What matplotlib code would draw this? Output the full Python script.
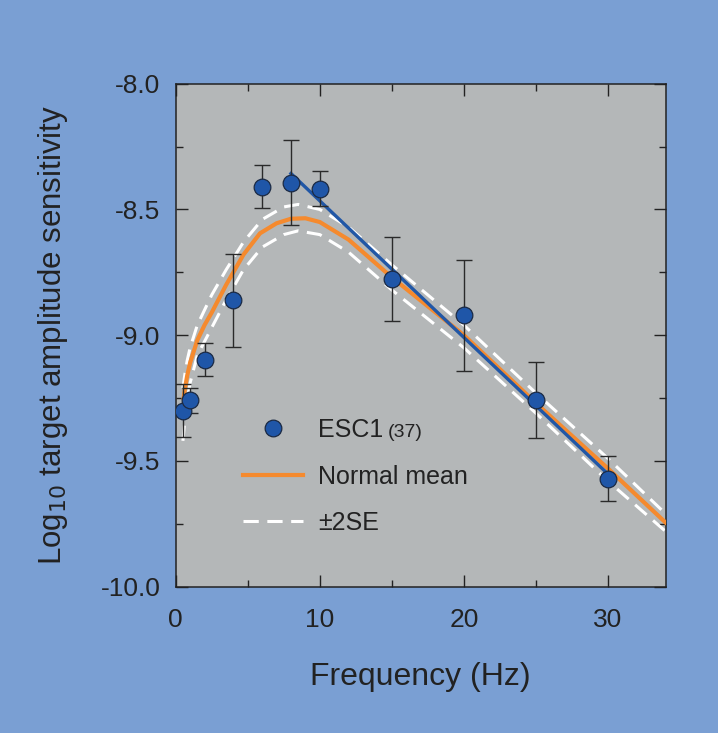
import matplotlib
matplotlib.use("Agg")
import matplotlib.pyplot as plt
from matplotlib.lines import Line2D
from matplotlib.ticker import MultipleLocator, FormatStrFormatter

plt.rcParams['font.family'] = ['Liberation Sans', 'DejaVu Sans']

# ---- data ----
freq = [0.5, 1, 2, 4, 6, 8, 10, 15, 20, 25, 30]
sens = [-9.30, -9.258, -9.097, -8.862, -8.409, -8.393, -8.417, -8.778, -8.921, -9.258, -9.571]
sens_err = [0.105, 0.05, 0.066, 0.185, 0.085, 0.17, 0.07, 0.167, 0.22, 0.15, 0.09]

fit_x = [8, 30]
fit_y = [-8.357, -9.552]

mean_x = [0.55, 0.65, 0.8, 1.0, 1.5, 2.0, 2.5, 3.5, 4.7, 5.85, 7.0, 8.0, 9.0, 10.0, 12.0, 15.0, 20.0, 25.0, 30.0, 34.0]
mean_y = [-9.25, -9.21, -9.16, -9.11, -9.02, -8.96, -8.91, -8.80, -8.68, -8.595, -8.555, -8.537, -8.535, -8.55, -8.62, -8.77, -9.00, -9.27, -9.53, -9.745]

se_x = [0.5, 0.65, 0.8, 1.0, 1.5, 2.5, 3.5, 4.7, 6.0, 7.5, 8.5, 10.0, 12.0, 15.0, 20.0, 25.0, 30.0, 34.0]
se_upper = [-9.21, -9.15, -9.10, -9.05, -8.96, -8.84, -8.74, -8.63, -8.54, -8.49, -8.48, -8.50, -8.57, -8.72, -8.96, -9.23, -9.49, -9.71]
se_lower = [-9.42, -9.33, -9.26, -9.19, -9.08, -8.97, -8.86, -8.74, -8.65, -8.60, -8.585, -8.60, -8.67, -8.82, -9.05, -9.31, -9.58, -9.78]

x_ticks = [0, 10, 20, 30]
y_ticks = [-10.0, -9.5, -9.0, -8.5, -8.0]

# ---- styles ----
bg_fig = '#7A9FD3'
bg_ax = '#B4B7B8'
dark = '#222222'
blue_mk = '#1F56A8'
blue_ln = '#2157A6'
orange = '#F58A2E'

fig = plt.figure(figsize=(7.18, 7.33), dpi=100, facecolor=bg_fig)
ax = fig.add_axes([0.2447, 0.1996, 0.6823, 0.6862])
ax.set_facecolor(bg_ax)

ax.plot(se_x, se_upper, color='white', lw=2.2, dashes=(5.0, 2.8), zorder=2)
ax.plot(se_x, se_lower, color='white', lw=2.2, dashes=(5.0, 2.8), zorder=2)
ax.plot(mean_x, mean_y, color=orange, lw=3.0, zorder=3)
ax.plot(fit_x, fit_y, color=blue_ln, lw=2.4, zorder=4)
ax.errorbar(freq, sens, yerr=sens_err, fmt='none', ecolor='#2a2a2a', elinewidth=1.0,
            capsize=5.8, capthick=1.0, zorder=5)
ax.plot(freq, sens, 'o', ms=12, mfc=blue_mk, mec='#1b2a44', mew=0.9, zorder=6)

ax.set_xlim(0, 34)
ax.set_ylim(-10, -8)
ax.set_xticks(x_ticks)
ax.set_yticks(y_ticks)
ax.xaxis.set_minor_locator(MultipleLocator(5))
ax.yaxis.set_minor_locator(MultipleLocator(0.25))
ax.yaxis.set_major_formatter(FormatStrFormatter('%.1f'))
ax.tick_params(which='both', direction='in', top=True, right=True, color=dark, width=1.0,
               labelsize=19, labelcolor=dark)
ax.tick_params(which='major', length=8.4)
ax.tick_params(which='minor', length=5)
ax.tick_params(axis='y', pad=11)
ax.tick_params(axis='x', pad=15)
for s in ax.spines.values():
    s.set_color(dark)
    s.set_linewidth(1.1)

ax.set_xlabel('Frequency (Hz)', fontsize=23, color=dark, labelpad=22)
ax.set_ylabel(r'Log$_{10}$ target amplitude sensitivity', fontsize=22.5, color=dark, labelpad=22)

handles = [
    Line2D([], [], ls='none', marker='o', ms=12, mfc=blue_mk, mec='#1b2a44', mew=0.9),
    Line2D([], [], color=orange, lw=3.0),
    Line2D([], [], color='white', lw=2.2, dashes=(5.0, 2.8)),
]
labels = ['ESC1', 'Normal mean', '\u00b12SE']
leg = ax.legend(handles, labels, loc='upper left', bbox_to_anchor=(0.137, 0.335),
                frameon=False, fontsize=18, handlelength=2.4, handletextpad=0.6,
                labelspacing=0.9, borderpad=0, borderaxespad=0)
for t in leg.get_texts():
    t.set_color(dark)

fig.canvas.draw()
bb = leg.get_texts()[0].get_window_extent()
fig.text(bb.x1 + 5, (bb.y0 + bb.y1) / 2 - 2, '(37)', fontsize=14, color=dark,
         ha='left', va='center', transform=None)

fig.savefig('out.png', dpi=100, facecolor=bg_fig)
